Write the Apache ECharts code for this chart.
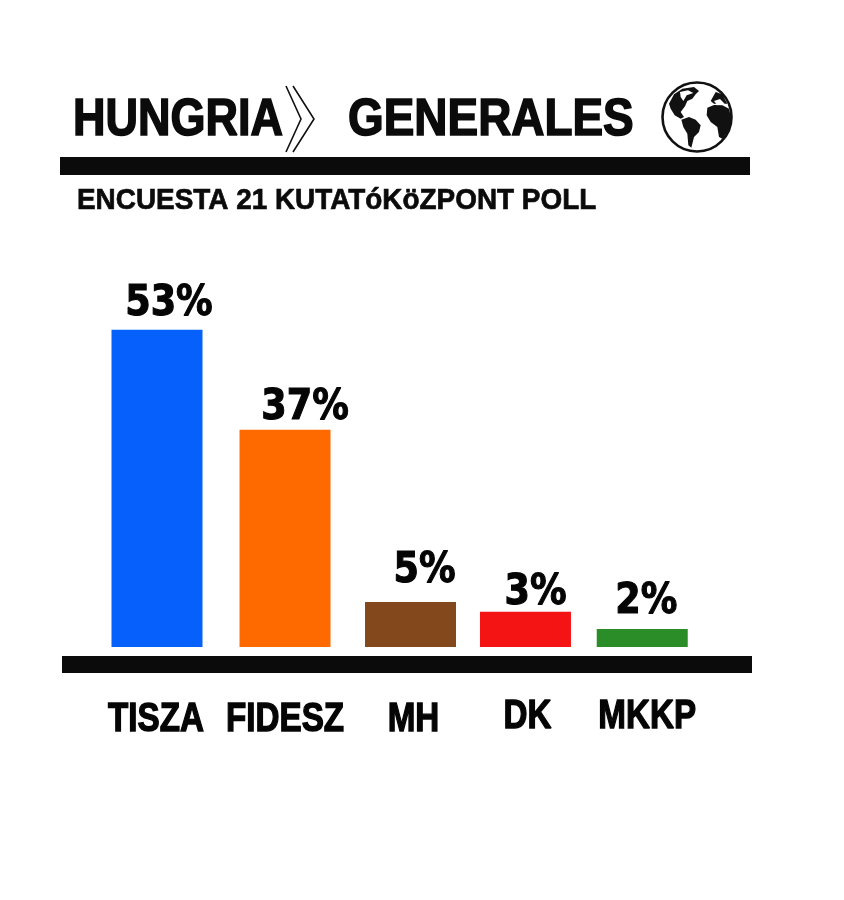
<!DOCTYPE html>
<html><head><meta charset="utf-8">
<style>html,body{margin:0;padding:0;background:#fff}#c{width:844px;height:900px}</style>
<script src="https://cdn.jsdelivr.net/npm/echarts@6/dist/echarts.min.js"></script>
</head><body><div id="c"></div>
<script>
const parties = ['TISZA','FIDESZ','MH','DK','MKKP'];
// printed figures
const printedPercent = [53,37,5,3,2];
// bar heights as measured in the picture (the drawn MH/DK bars are taller than their printed figure)
const drawnHeights = [53,36.3,7.5,5.9,3];
// bar centres, in slots along the axis (the source spacing is slightly uneven)
const slots = [0,1.058,2.095,3.045,4.01];
const barColors = ['#0660fb','#ff6a00','#83491d','#f51414','#2b8d28'];
// label nudges in px, layout only
const valueNudgeX = [12,20,14,10,4];
const valueNudgeY = [26,22,31,19,27];
const nameNudgeX = [-1,0,3,2,5];
const nameNudgeY = [73,73,73,70,70];

const chart = echarts.init(document.getElementById('c'),null,{renderer:'canvas'});
const FACE='"Liberation Sans"';
const ink='#0b0b0b';
const heavy=(text,x,y,sx,size,lw)=>({type:'text',x,y,scaleX:sx,style:{text,fill:ink,stroke:ink,lineWidth:lw,font:`bold ${size}px ${FACE}`,verticalAlign:'middle'}});
const land=[
 [[55,100],[70,72],[95,55],[130,50],[145,62],[135,72],[125,85],[110,92],[103,108],[90,125],[100,140],[90,145],[72,135],[60,115]],
 [[92,148],[115,140],[135,148],[150,165],[145,185],[130,200],[122,232],[113,225],[110,190],[98,170]],
 [[170,112],[190,104],[215,105],[235,115],[243,150],[235,180],[215,205],[205,200],[200,170],[180,155],[168,135]],
 [[180,92],[195,65],[215,72],[230,100],[205,100],[190,100]]
].map(poly=>poly.map(p=>[(p[0]-139)/3,(p[1]-140)/3]));
const ice=[
 [[88,65],[112,60],[128,68],[108,75],[98,92],[90,80]],
 [[190,92],[208,86],[222,100],[200,105]]
].map(poly=>poly.map(p=>[(p[0]-139)/3,(p[1]-140)/3]));
const nameLabel=(params,api)=>{
 const i=params.dataIndex, c=api.coord([api.value(0),0]);
 return {type:'text',x:c[0]+nameNudgeX[i],y:c[1]+nameNudgeY[i],scaleX:.81,
  style:{text:parties[i],fill:'#050505',stroke:'#050505',lineWidth:1.4,font:`bold 41px ${FACE}`,align:'center',verticalAlign:'middle'}};
};
const valueLabel=(params,api)=>{
 const i=params.dataIndex, c=api.coord([api.value(0),api.value(1)]);
 return {type:'text',x:c[0]+valueNudgeX[i],y:c[1]-valueNudgeY[i],scaleX:.87,
  style:{text:printedPercent[i]+'%',fill:'#050505',stroke:'#050505',lineWidth:1.2,font:`bold 42px "DejaVu Sans"`,align:'center',verticalAlign:'middle'}};
};
const points=slots.map((s,i)=>[s,drawnHeights[i]]);
chart.setOption({
 backgroundColor:'#fff',
 animation:false,
 grid:{left:62,right:92,top:270,bottom:253},
 xAxis:{type:'value',min:-0.785,max:4.917,splitLine:{show:false},offset:17,
  axisLine:{show:true,onZero:false,lineStyle:{color:ink,width:17,cap:'butt'}},
  axisTick:{show:false},axisLabel:{show:false}},
 yAxis:{type:'value',min:0,max:63,show:false},
 series:[
  {type:'bar',barWidth:91,data:points.map((p,i)=>({value:p,itemStyle:{color:barColors[i]}}))},
  {type:'custom',clip:false,silent:true,renderItem:valueLabel,data:points},
  {type:'custom',clip:false,silent:true,renderItem:nameLabel,data:points}
 ],
 graphic:[
  heavy('HUNGRIA',73,121,.865,52,1.6),
  heavy('GENERALES',348,121,.883,52,1.6),
  {type:'polyline',shape:{points:[[286,86],[301,119],[286,152]]},style:{stroke:'#111',lineWidth:1.6,fill:null}},
  {type:'polyline',shape:{points:[[293,86],[314,119],[293,152]]},style:{stroke:'#111',lineWidth:1.6,fill:null}},
  {type:'group',x:697,y:117,children:[
    {type:'circle',shape:{cx:0,cy:0,r:34.5},style:{fill:'#fff',stroke:'#111',lineWidth:2.6}},
    ...land.map(points=>({type:'polygon',shape:{points},style:{fill:'#111'}})),
    ...ice.map(points=>({type:'polygon',shape:{points},style:{fill:'#fff'}}))
  ]},
  {type:'rect',shape:{x:60,y:157,width:690,height:18},style:{fill:ink}},
  heavy('ENCUESTA 21 KUTATóKöZPONT POLL',77,201,.93,30,.7)
 ]
});
</script></body></html>
